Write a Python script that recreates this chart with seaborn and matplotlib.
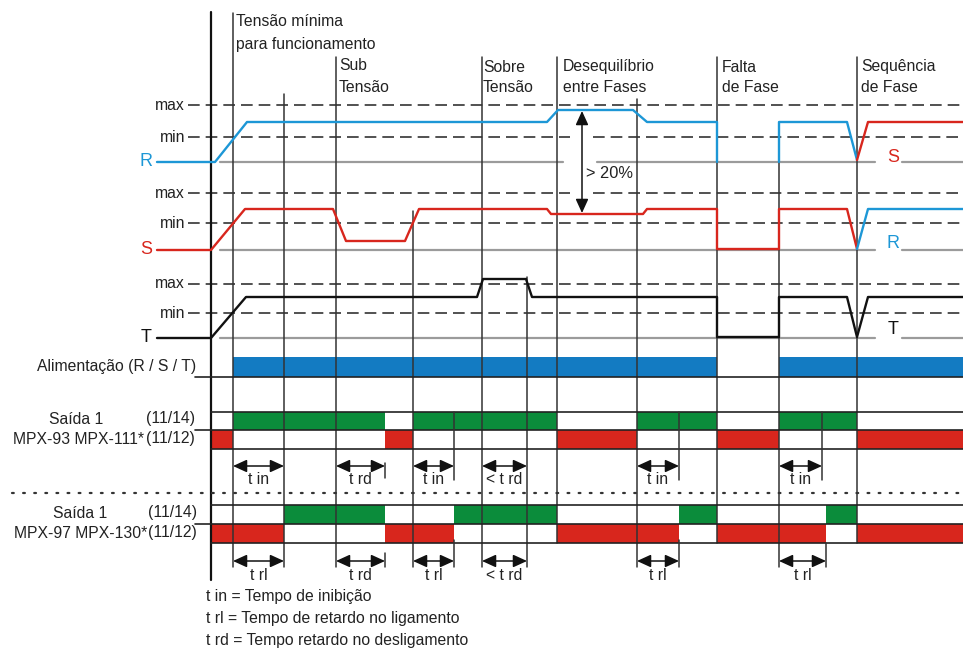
import numpy as np
import pandas as pd
import matplotlib
matplotlib.use("Agg")
import matplotlib.pyplot as plt
import seaborn as sns

# ---------------- data (time axis = horizontal position, level = vertical position) -------------
# waveform breakpoints
R_t = [157, 215, 247, 547, 558, 633, 647, 717, 717]
R_v = [162, 162, 122, 122, 110, 110, 122, 122, 162]
R2_t = [779, 779, 847, 857]
R2_v = [162, 122, 122, 160]
Rswap_t = [857, 868, 963]          # red (S) occupying R position after phase swap
Rswap_v = [160, 122, 122]

S_t = [157, 211, 245, 333, 346, 405, 419, 547, 551, 643, 647, 717, 717, 779, 779, 847, 857]
S_v = [250, 250, 209, 209, 241, 241, 209, 209, 214, 214, 209, 209, 249, 249, 209, 209, 249]
Sswap_t = [857, 868, 963]
Sswap_v = [249, 209, 209]

T_t = [157, 211, 246, 477, 483, 526, 532, 717, 717, 779, 779, 847, 857, 868, 963]
T_v = [338, 338, 297, 297, 279, 279, 297, 297, 337, 337, 297, 297, 337, 297, 297]

# reference levels
max_levels = [105, 193, 284]
min_levels = [137, 223, 313]
base_levels = [162, 250, 338]

# event lines
event_x = [233, 284, 336, 413, 482, 527, 557, 637, 717, 779, 857]
event_top = [13, 94, 57, 211, 57, 277, 57, 99, 57, 130, 57]
event_bot = [567, 567, 567, 567, 567, 567, 543, 567, 543, 567, 543]

# headers
head_x = [236, 339, 483, 563, 722, 861]
head_l1 = ["Tensão mínima", "Sub", "Sobre", "Desequilíbrio", "Falta", "Sequência"]
head_l2 = ["para funcionamento", "Tensão", "Tensão", "entre Fases", "de Fase", "de Fase"]
head_y1 = [22, 65, 67, 67, 67, 67]
head_y2 = [44, 87, 88, 88, 88, 88]

# output state intervals
alim_on = [(233, 717), (779, 963)]
mpx93_green = [(233, 385), (413, 557), (637, 717), (779, 857)]
mpx93_red = [(211, 233), (385, 413), (557, 637), (717, 779), (857, 963)]
mpx97_green = [(284, 385), (454, 557), (679, 717), (826, 857)]
mpx97_red = [(211, 284), (385, 454), (557, 679), (717, 826), (857, 963)]

# timing arrows
tin_start = [233, 336, 413, 482, 637, 779]
tin_end = [284, 385, 454, 527, 679, 822]
tin_labels = ["t in", "t rd", "t in", "< t rd", "t in", "t in"]
trl_start = [233, 336, 413, 482, 637, 779]
trl_end = [284, 385, 454, 527, 679, 826]
trl_labels = ["t rl", "t rd", "t rl", "< t rd", "t rl", "t rl"]

legend_lines = ["t in = Tempo de inibição",
                "t rl = Tempo de retardo no ligamento",
                "t rd = Tempo retardo no desligamento"]

# ---------------- style -------------
sns.set_theme(style="white")
plt.rcParams["font.family"] = ["Liberation Sans", "DejaVu Sans"]
FS = 11.3

BLUE = "#1d97d6"
BAR_BLUE = "#137bc2"
RED = "#d8261d"
GREEN = "#0b8c3b"
GRAY = "#9b9b9b"
DARK = "#333333"
TXT = "#222222"

fig = plt.figure(figsize=(9.63, 6.49), dpi=100)
ax = fig.add_axes([0, 0, 1, 1])

# ---------------- reference dashed lines -------------
dash = (0, (7.0, 3.6))
for i, y in enumerate(max_levels):
    if i == 1:
        ax.plot([188, 570], [y, y], color=DARK, lw=1.2, ls=dash)
        ax.plot([593, 963], [y, y], color=DARK, lw=1.2, ls=dash)
    else:
        ax.plot([188, 963], [y, y], color=DARK, lw=1.2, ls=dash)
    ax.text(185, y, "max", ha="right", va="center", fontsize=FS, color=TXT)
for i, y in enumerate(min_levels):
    if i == 0:
        ax.plot([188, 570], [y, y], color=DARK, lw=1.2, ls=dash)
        ax.plot([593, 963], [y, y], color=DARK, lw=1.2, ls=dash)
    else:
        ax.plot([188, 963], [y, y], color=DARK, lw=1.2, ls=dash)
    ax.text(185, y, "min", ha="right", va="center", fontsize=FS, color=TXT)

# gray baselines
for i, y in enumerate(base_levels):
    if i == 0:
        ax.plot([220, 563], [y, y], color=GRAY, lw=1.6)
        ax.plot([597, 875], [y, y], color=GRAY, lw=1.6)
    else:
        ax.plot([220, 875], [y, y], color=GRAY, lw=1.6)
    ax.plot([902, 963], [y, y], color=GRAY, lw=1.6)

# event vertical lines
for x, t, b in zip(event_x, event_top, event_bot):
    ax.plot([x, x], [t, b], color=DARK, lw=1.1)
# main axis
ax.plot([211, 211], [12, 580], color="#111", lw=1.6)

# ---------------- waveforms via seaborn -------------
def wave(t, v, color):
    df = pd.DataFrame({"t": t, "v": v})
    sns.lineplot(data=df, x="t", y="v", sort=False, estimator=None, color=color,
                 lw=1.7, ax=ax, legend=False)

wave(R_t, R_v, BLUE)
wave(R2_t, R2_v, BLUE)
wave(Rswap_t, Rswap_v, RED)
wave(S_t, S_v, RED)
wave(Sswap_t, Sswap_v, BLUE)
wave(T_t, T_v, "#111111")

# phase labels
PFS = 13
ax.text(146, 162, "R", ha="center", va="center", fontsize=PFS, color=BLUE)
ax.text(146, 250, "S", ha="center", va="center", fontsize=PFS, color=RED)
ax.text(146, 338, "T", ha="center", va="center", fontsize=PFS, color="#111")
ax.text(893, 158, "S", ha="center", va="center", fontsize=PFS, color=RED)
ax.text(893, 244, "R", ha="center", va="center", fontsize=PFS, color=BLUE)
ax.text(893, 330, "T", ha="center", va="center", fontsize=PFS, color="#111")

# >20% arrow
ax.annotate("", xy=(582, 111), xytext=(582, 213),
            arrowprops=dict(arrowstyle="<|-|>,head_length=0.7,head_width=0.32", color="#111",
                            lw=1.1, mutation_scale=12, shrinkA=0, shrinkB=0))
ax.text(586, 173, "> 20%", ha="left", va="center", fontsize=FS + 0.5, color=TXT)

# headers
for x, l1, l2, y1, y2 in zip(head_x, head_l1, head_l2, head_y1, head_y2):
    ax.text(x, y1, l1, ha="left", va="center", fontsize=FS, color=TXT)
    ax.text(x, y2, l2, ha="left", va="center", fontsize=FS, color=TXT)

# ---------------- output rows -------------
ax.broken_barh([(a, b - a) for a, b in alim_on], (357, 20), facecolors=BAR_BLUE, lw=0)
ax.plot([195, 963], [377, 377], color=TXT, lw=1.2)
ax.text(196, 367, "Alimentação (R / S / T)", ha="right", va="center", fontsize=FS, color=TXT)

ax.broken_barh([(a, b - a) for a, b in mpx93_green], (412, 18), facecolors=GREEN, lw=0)
ax.broken_barh([(a, b - a) for a, b in mpx93_red], (430, 19), facecolors=RED, lw=0)
ax.broken_barh([(a, b - a) for a, b in mpx97_green], (505, 19), facecolors=GREEN, lw=0)
ax.broken_barh([(a, b - a) for a, b in mpx97_red], (524, 19), facecolors=RED, lw=0)
for y, x0 in [(412, 211), (430, 195), (449, 211), (505, 211), (524, 195), (543, 211)]:
    ax.plot([x0, 963], [y, y], color=TXT, lw=1.2)

# arrow end ticks
for x, y0, y1 in [(385, 463, 478), (454, 412, 480), (679, 412, 480), (822, 412, 480),
                  (385, 553, 567), (454, 540, 567), (679, 540, 567), (826, 543, 567)]:
    ax.plot([x, x], [y0, y1], color=DARK, lw=1.1)

ax.text(76, 419, "Saída 1", ha="center", va="center", fontsize=FS, color=TXT)
ax.text(195, 419, "(11/14)", ha="right", va="center", fontsize=FS, color=TXT)
ax.text(144, 439, "MPX-93 MPX-111*", ha="right", va="center", fontsize=FS, color=TXT)
ax.text(195, 439, "(11/12)", ha="right", va="center", fontsize=FS, color=TXT)
ax.text(80, 513, "Saída 1", ha="center", va="center", fontsize=FS, color=TXT)
ax.text(197, 513, "(11/14)", ha="right", va="center", fontsize=FS, color=TXT)
ax.text(147, 533, "MPX-97 MPX-130*", ha="right", va="center", fontsize=FS, color=TXT)
ax.text(197, 533, "(11/12)", ha="right", va="center", fontsize=FS, color=TXT)

# dotted separator
ax.plot([12, 963], [493, 493], color="#333", lw=1.6, ls=(0, (0.8, 4.2)), dash_capstyle="round")

# timing arrows
def tarrow(x0, x1, y, label, ty):
    ax.annotate("", xy=(x1, y), xytext=(x0, y),
                arrowprops=dict(arrowstyle="<|-|>,head_length=0.7,head_width=0.32", color="#111",
                                lw=1.1, mutation_scale=12, shrinkA=0, shrinkB=0))
    ax.text((x0 + x1) / 2, ty, label, ha="center", va="center", fontsize=FS, color=TXT)

for a, b, l in zip(tin_start, tin_end, tin_labels):
    tarrow(a, b, 466, l, 480)
for a, b, l in zip(trl_start, trl_end, trl_labels):
    tarrow(a, b, 561, l, 576)

for i, s in enumerate(legend_lines):
    ax.text(206, 597 + 21.5 * i, s, ha="left", va="center", fontsize=FS, color=TXT)

ax.set_xlim(0, 963)
ax.set_ylim(649, 0)
ax.axis("off")

fig.savefig("out.png", dpi=100)
